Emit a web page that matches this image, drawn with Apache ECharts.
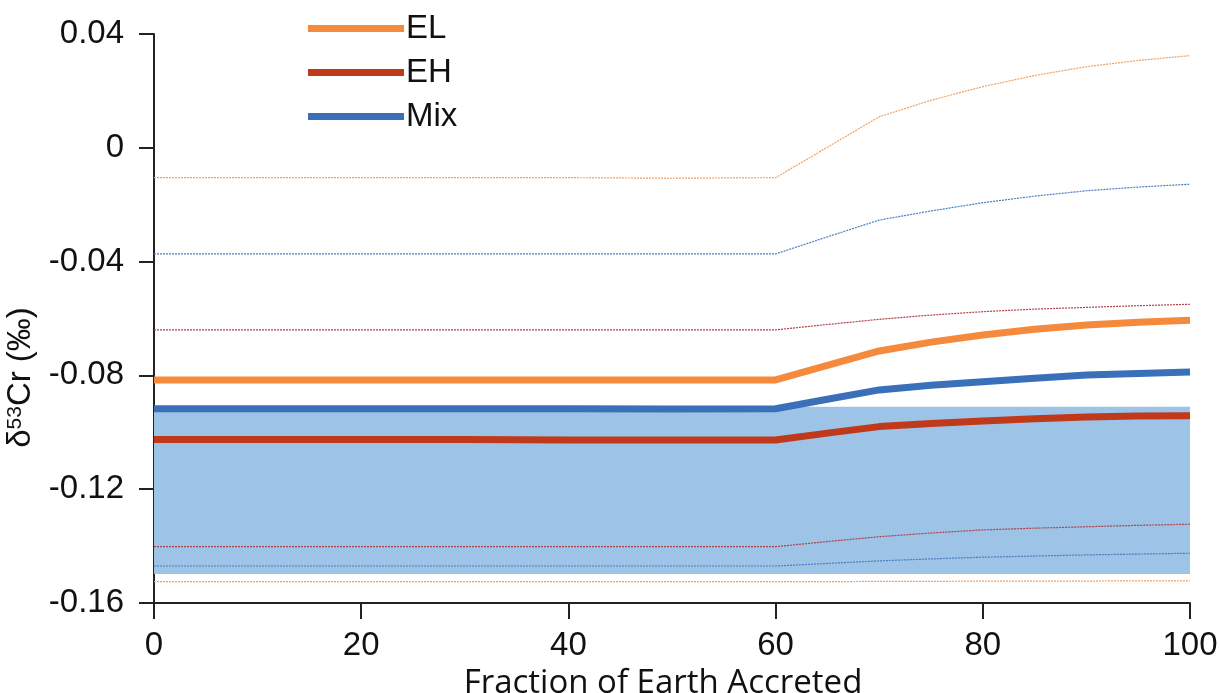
<!DOCTYPE html>
<html>
<head>
<meta charset="utf-8">
<script src="https://cdn.jsdelivr.net/npm/echarts@6/dist/echarts.min.js"></script>
<style>html,body{margin:0;padding:0;background:#fff;}#c{width:1220px;height:693px;}</style>
</head>
<body>
<div id="c"></div>
<script>
const fraction = [0, 10, 20, 30, 40, 50, 60, 65, 70, 75, 80, 85, 90, 95, 100];
const elMean  = [-0.0816, -0.0816, -0.0816, -0.0816, -0.0816, -0.0816, -0.0816, -0.0765, -0.0714, -0.0683, -0.0658, -0.0638, -0.0623, -0.0613, -0.0606];
const elUpper = [-0.0105, -0.0105, -0.0105, -0.0105, -0.0105, -0.0107, -0.0105, 0.0002, 0.0109, 0.0167, 0.0215, 0.0254, 0.0285, 0.0307, 0.0324];
const elLower = [-0.1525, -0.1525, -0.1525, -0.1525, -0.1525, -0.1525, -0.1525, -0.1525, -0.1524, -0.1524, -0.1523, -0.1523, -0.1523, -0.1522, -0.1522];
const ehMean  = [-0.1025, -0.1025, -0.1025, -0.1025, -0.1027, -0.1027, -0.1027, -0.1003, -0.0980, -0.0969, -0.0960, -0.0952, -0.0946, -0.0943, -0.0942];
const ehUpper = [-0.0640, -0.0640, -0.0640, -0.0640, -0.0640, -0.0640, -0.0640, -0.0621, -0.0603, -0.0588, -0.0576, -0.0567, -0.0561, -0.0555, -0.0550];
const ehLower = [-0.1402, -0.1402, -0.1402, -0.1402, -0.1402, -0.1402, -0.1402, -0.1384, -0.1367, -0.1354, -0.1343, -0.1337, -0.1332, -0.1327, -0.1323];
const mixMean  = [-0.0917, -0.0917, -0.0917, -0.0917, -0.0917, -0.0918, -0.0917, -0.0884, -0.0851, -0.0835, -0.0822, -0.0810, -0.0799, -0.0793, -0.0788];
const mixUpper = [-0.0373, -0.0373, -0.0373, -0.0373, -0.0373, -0.0373, -0.0373, -0.0313, -0.0254, -0.0222, -0.0193, -0.0170, -0.0151, -0.0138, -0.0128];
const mixLower = [-0.1470, -0.1470, -0.1470, -0.1470, -0.1470, -0.1470, -0.1470, -0.1461, -0.1452, -0.1445, -0.1439, -0.1435, -0.1431, -0.1428, -0.1425];
const bandRange = [-0.0910, -0.1498];
const bandX = [0, 100];
const yTicks = [-0.16, -0.12, -0.08, -0.04, 0, 0.04];
const xTicks = [0, 20, 40, 60, 80, 100];

const C = { EL: '#f58a3d', EH: '#c0391b', Mix: '#3a70b9' };
const CT = { EL: '#f0a060', EH: '#b0404a', Mix: '#4a7cc0' };

function pts(arr) { return fraction.map((x, i) => [x, arr[i]]); }
function thick(name, arr) {
  return { name: name, type: 'line', data: pts(arr), showSymbol: false, symbol: 'none', z: 5,
    lineStyle: { color: C[name], width: 7, cap: 'butt', join: 'round' }, itemStyle: { color: C[name] } };
}
function thin(key, arr) {
  return { name: key + ' bound', type: 'line', data: pts(arr), showSymbol: false, symbol: 'none', z: 4,
    lineStyle: { color: CT[key], width: 1.2, type: [2, 1] } };
}

const chart = echarts.init(document.getElementById('c'));
chart.setOption({
  animation: false,
  backgroundColor: '#fff',
  grid: { left: 154, right: 30, top: 34, bottom: 90, containLabel: false, outerBoundsMode: 'none' },
  legend: {
    data: ['EL', 'EH', 'Mix'], orient: 'vertical', left: 303, top: 7,
    icon: 'rect', itemWidth: 96, itemHeight: 7, itemGap: 11,
    textStyle: { fontFamily: 'Liberation Sans, Arial', fontSize: 33, color: '#111', lineHeight: 30, padding: [0, 0, 0, -3] }
  },
  xAxis: {
    type: 'value', min: 0, max: 100, interval: 20,
    name: 'Fraction of Earth Accreted', nameLocation: 'middle', nameGap: 58,
    nameTextStyle: { fontFamily: 'Open Sans', fontSize: 33, color: '#111', padding: [0, 18, 0, 0] },
    axisLine: { show: true, onZero: false, lineStyle: { color: '#222', width: 2 } },
    axisTick: { show: true, inside: false, length: 16, lineStyle: { color: '#222', width: 2 } },
    axisLabel: { fontFamily: 'Liberation Sans, Arial', fontSize: 33, color: '#111', margin: 26 },
    splitLine: { show: false }
  },
  yAxis: {
    type: 'value', min: -0.16, max: 0.04, interval: 0.04,
    name: '{a|δ}{s|53}{a|Cr (‰)}', nameLocation: 'middle', nameGap: 106, nameRotate: 90,
    nameTextStyle: { padding: [0, 118, 0, 0], rich: {
      a: { fontFamily: 'Liberation Sans, Arial', fontSize: 33, color: '#111' },
      s: { fontFamily: 'Liberation Sans, Arial', fontSize: 21, color: '#111', verticalAlign: 'top', padding: [0, 0, 13, 0] }
    } },
    axisLine: { show: true, onZero: false, lineStyle: { color: '#222', width: 2 } },
    axisTick: { show: true, inside: false, length: 15, lineStyle: { color: '#222', width: 2 } },
    axisLabel: { fontFamily: 'Liberation Sans, Arial', fontSize: 33, color: '#111', margin: 30,
      formatter: v => { const r = Math.round(v * 100) / 100; return r === 0 ? '0' : r.toFixed(2); } },
    splitLine: { show: false }
  },
  series: [
    { name: 'band', type: 'line', data: [], z: 1,
      markArea: { silent: true, itemStyle: { color: '#9dc3e6', opacity: 1 },
        data: [[{ xAxis: bandX[0], yAxis: bandRange[0] }, { xAxis: bandX[1], yAxis: bandRange[1] }]] } },
    thin('EL', elUpper), thin('EL', elLower),
    thin('EH', ehUpper), thin('EH', ehLower),
    thin('Mix', mixUpper), thin('Mix', mixLower),
    thick('EL', elMean), thick('Mix', mixMean), thick('EH', ehMean)
  ]
});
</script>
</body>
</html>
